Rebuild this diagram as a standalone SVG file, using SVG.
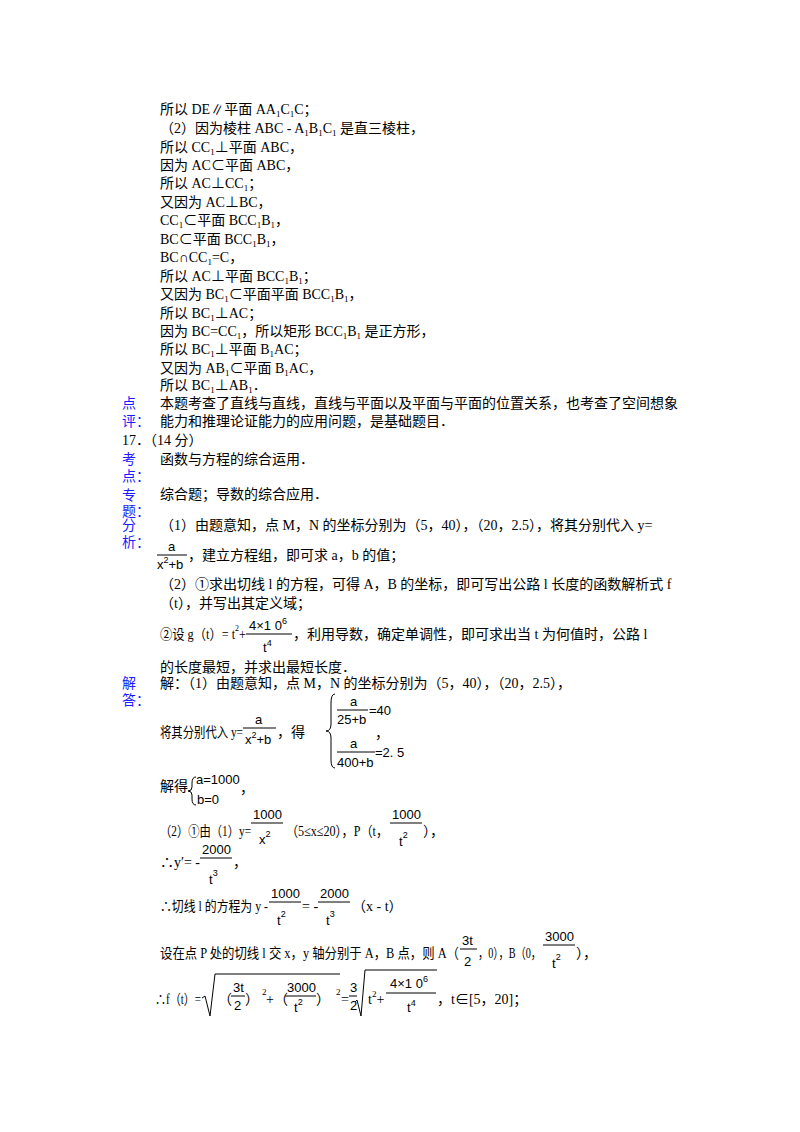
<svg xmlns="http://www.w3.org/2000/svg" width="800" height="1132" viewBox="0 0 800 1132">
<style>
text{font-family:"Liberation Serif","Noto Sans CJK SC",serif;font-size:14px;fill:#000}
.l{fill:#1a1aff}
.m{font-family:"Liberation Sans","Noto Sans CJK SC",sans-serif;font-size:13px}
.s{font-size:9px}
line{stroke:#000;stroke-width:1}
path{fill:none;stroke:#000;stroke-width:1}
</style>
<rect width="800" height="1132" fill="#fff"/>
<g id="proof">
<text x="160" y="114">所以 DE∥平面 AA<tspan class="s" dy="3">1</tspan><tspan dy="-3">C</tspan><tspan class="s" dy="3">1</tspan><tspan dy="-3">C；</tspan></text>
<text x="160" y="133">（2）因为棱柱 ABC - A<tspan class="s" dy="3">1</tspan><tspan dy="-3">B</tspan><tspan class="s" dy="3">1</tspan><tspan dy="-3">C</tspan><tspan class="s" dy="3">1</tspan><tspan dy="-3"> 是直三棱柱，</tspan></text>
<text x="160" y="152">所以 CC<tspan class="s" dy="3">1</tspan><tspan dy="-3">⊥平面 ABC，</tspan></text>
<text x="160" y="170">因为 AC⊂平面 ABC，</text>
<text x="160" y="188">所以 AC⊥CC<tspan class="s" dy="3">1</tspan><tspan dy="-3">；</tspan></text>
<text x="160" y="207">又因为 AC⊥BC，</text>
<text x="160" y="225">CC<tspan class="s" dy="3">1</tspan><tspan dy="-3">⊂平面 BCC</tspan><tspan class="s" dy="3">1</tspan><tspan dy="-3">B</tspan><tspan class="s" dy="3">1</tspan><tspan dy="-3">，</tspan></text>
<text x="160" y="244">BC⊂平面 BCC<tspan class="s" dy="3">1</tspan><tspan dy="-3">B</tspan><tspan class="s" dy="3">1</tspan><tspan dy="-3">，</tspan></text>
<text x="160" y="262">BC∩CC<tspan class="s" dy="3">1</tspan><tspan dy="-3">=C，</tspan></text>
<text x="160" y="281">所以 AC⊥平面 BCC<tspan class="s" dy="3">1</tspan><tspan dy="-3">B</tspan><tspan class="s" dy="3">1</tspan><tspan dy="-3">；</tspan></text>
<text x="160" y="299">又因为 BC<tspan class="s" dy="3">1</tspan><tspan dy="-3">⊂平面平面 BCC</tspan><tspan class="s" dy="3">1</tspan><tspan dy="-3">B</tspan><tspan class="s" dy="3">1</tspan><tspan dy="-3">，</tspan></text>
<text x="160" y="318">所以 BC<tspan class="s" dy="3">1</tspan><tspan dy="-3">⊥AC；</tspan></text>
<text x="160" y="336">因为 BC=CC<tspan class="s" dy="3">1</tspan><tspan dy="-3">，所以矩形 BCC</tspan><tspan class="s" dy="3">1</tspan><tspan dy="-3">B</tspan><tspan class="s" dy="3">1</tspan><tspan dy="-3"> 是正方形，</tspan></text>
<text x="160" y="354">所以 BC<tspan class="s" dy="3">1</tspan><tspan dy="-3">⊥平面 B</tspan><tspan class="s" dy="3">1</tspan><tspan dy="-3">AC；</tspan></text>
<text x="160" y="373">又因为 AB<tspan class="s" dy="3">1</tspan><tspan dy="-3">⊂平面 B</tspan><tspan class="s" dy="3">1</tspan><tspan dy="-3">AC，</tspan></text>
<text x="160" y="390">所以 BC<tspan class="s" dy="3">1</tspan><tspan dy="-3">⊥AB</tspan><tspan class="s" dy="3">1</tspan><tspan dy="-3">．</tspan></text>
</g>
<g id="labels">
<text class="l" x="122" y="408">点</text><text class="l" x="122" y="426">评：</text>
<text class="l" x="122" y="464">考</text><text class="l" x="122" y="481">点：</text>
<text class="l" x="122" y="500">专</text><text class="l" x="122" y="516">题：</text>
<text class="l" x="122" y="530">分</text><text class="l" x="122" y="547">析：</text>
<text class="l" x="122" y="688">解</text><text class="l" x="122" y="705">答：</text>
</g>
<g id="comment">
<text x="160" y="408">本题考查了直线与直线，直线与平面以及平面与平面的位置关系，也考查了空间想象</text>
<text x="160" y="426">能力和推理论证能力的应用问题，是基础题目．</text>
<text x="122" y="445">17．（14 分）</text>
<text x="160" y="464">函数与方程的综合运用．</text>
<text x="160" y="499">综合题；导数的综合应用．</text>
</g>
<g id="analysis">
<text x="160" y="530">（1）由题意知，点 M，N 的坐标分别为（5，40），（20，2.5），将其分别代入 y=</text>
<text class="m" x="168" y="551">a</text><line x1="157" y1="555" x2="187" y2="555"/>
<text class="m" x="157" y="569">x<tspan class="s" dy="-6">2</tspan><tspan dy="6">+b</tspan></text>
<text x="188" y="560">，建立方程组，即可求 a，b 的值；</text>
<text x="160" y="589">（2）①求出切线 l 的方程，可得 A，B 的坐标，即可写出公路 l 长度的函数解析式 f</text>
<text x="160" y="608">（t），并写出其定义域；</text>
<text x="160" y="639" textLength="86" lengthAdjust="spacingAndGlyphs">②设 g（t）= t<tspan class="s" dy="-8">2</tspan><tspan dy="8">+</tspan></text>
<text class="m" x="249" y="630">4×1 0<tspan class="s" dy="-6">6</tspan></text>
<line x1="246" y1="634" x2="292" y2="634"/>
<text class="m" x="263" y="652">t<tspan class="s" dy="-6">4</tspan></text>
<text x="293" y="639">，利用导数，确定单调性，即可求出当 t 为何值时，公路 l</text>
<text x="160" y="672">的长度最短，并求出最短长度．</text>
</g>
<g id="solution">
<text x="160" y="688">解：（1）由题意知，点 M，N 的坐标分别为（5，40），（20，2.5），</text>
<text x="160" y="737" textLength="83" lengthAdjust="spacingAndGlyphs">将其分别代入 y=</text>
<text class="m" x="255" y="724">a</text><line x1="243" y1="728" x2="276" y2="728"/>
<text class="m" x="245" y="744">x<tspan class="s" dy="-6">2</tspan><tspan dy="6">+b</tspan></text>
<text x="277" y="737">，得</text>
<path d="M335,694 Q331,694 331,703 L331,724 Q331,731 326,731 Q331,731 331,738 L331,760 Q331,768 335,768"/>
<text class="m" x="350" y="706">a</text><line x1="337" y1="710" x2="368" y2="710"/>
<text class="m" x="337" y="724">25+b</text><text class="m" x="369" y="715">=40</text>
<text x="375" y="738">，</text>
<text class="m" x="350" y="748">a</text><line x1="337" y1="752" x2="375" y2="752"/>
<text class="m" x="337" y="767">400+b</text><text class="m" x="375" y="757">=2. 5</text>
<text x="160" y="791">解得</text>
<path d="M196,777 Q192,777 192,783 L192,787 Q192,791 188,791 Q192,791 192,795 L192,799 Q192,805 196,805"/>
<text class="m" x="196" y="784">a=1000</text><text x="240" y="793">，</text>
<text class="m" x="197" y="804">b=0</text>
<text x="160" y="836" textLength="91" lengthAdjust="spacingAndGlyphs">（2）①由（1）y=</text>
<text class="m" x="253" y="819">1000</text><line x1="251" y1="823" x2="283" y2="823"/>
<text class="m" x="259" y="844">x<tspan class="s" dy="-7">2</tspan></text>
<text x="286" y="836" textLength="102" lengthAdjust="spacingAndGlyphs">（5≤x≤20），P（t，</text>
<text class="m" x="392" y="819">1000</text><line x1="390" y1="823" x2="422" y2="823"/>
<text class="m" x="399" y="846">t<tspan class="s" dy="-8">2</tspan></text>
<text x="423" y="836">），</text>
<text x="160" y="867" textLength="40" lengthAdjust="spacingAndGlyphs">∴y′= -</text>
<text class="m" x="202" y="854">2000</text><line x1="200" y1="858" x2="232" y2="858"/>
<text class="m" x="209" y="884">t<tspan class="s" dy="-8">3</tspan></text>
<text x="233" y="867">，</text>
<text x="160" y="911" textLength="108" lengthAdjust="spacingAndGlyphs">∴切线 l 的方程为 y -</text>
<text class="m" x="271" y="898">1000</text><line x1="269" y1="902" x2="301" y2="902"/>
<text class="m" x="277" y="925">t<tspan class="s" dy="-8">2</tspan></text>
<text x="302" y="911">= -</text>
<text class="m" x="320" y="898">2000</text><line x1="318" y1="902" x2="350" y2="902"/>
<text class="m" x="326" y="925">t<tspan class="s" dy="-8">3</tspan></text>
<text x="352" y="911">（x - t）</text>
<text x="160" y="958" textLength="299" lengthAdjust="spacingAndGlyphs">设在点 P 处的切线 l 交 x，y 轴分别于 A，B 点，则 A（</text>
<text class="m" x="462" y="945">3t</text><line x1="460" y1="949" x2="477" y2="949"/>
<text class="m" x="464" y="966">2</text>
<text x="478" y="958" textLength="63" lengthAdjust="spacingAndGlyphs">，0），B（0，</text>
<text class="m" x="545" y="941">3000</text><line x1="543" y1="945" x2="575" y2="945"/>
<text class="m" x="552" y="968">t<tspan class="s" dy="-8">2</tspan></text>
<text x="576" y="958">），</text>
<text x="155" y="1004" textLength="46" lengthAdjust="spacingAndGlyphs">∴f（t）=</text>
<path d="M202,998 L205,996 L210,1016 L215,974 L340,974"/>
<text x="218" y="1004">（</text>
<text class="m" x="233" y="992">3t</text><line x1="231" y1="996" x2="245" y2="996"/>
<text class="m" x="234" y="1010">2</text>
<text x="245" y="1004">）</text><text class="s" x="262" y="995">2</text><text x="266" y="1004">+（</text>
<text class="m" x="287" y="992">3000</text><line x1="285" y1="996" x2="316" y2="996"/>
<text class="m" x="294" y="1012">t<tspan class="s" dy="-7">2</tspan></text>
<text x="316" y="1004">）</text><text class="s" x="336" y="995">2</text>
<text x="341" y="1004">=</text>
<text class="m" x="350" y="992">3</text><line x1="349" y1="996" x2="357" y2="996"/>
<text class="m" x="350" y="1010">2</text>
<path d="M355,1002 L357,1000 L361,1016 L365,970 L437,970"/>
<text x="368" y="1004">t<tspan class="s" dy="-7">2</tspan><tspan dy="7">+</tspan></text>
<text class="m" x="390" y="988">4×1 0<tspan class="s" dy="-6">6</tspan></text>
<line x1="386" y1="993" x2="436" y2="993"/>
<text class="m" x="407" y="1012">t<tspan class="s" dy="-6">4</tspan></text>
<text x="437" y="1004">，t∈[5，20]；</text>
</g>
</svg>
